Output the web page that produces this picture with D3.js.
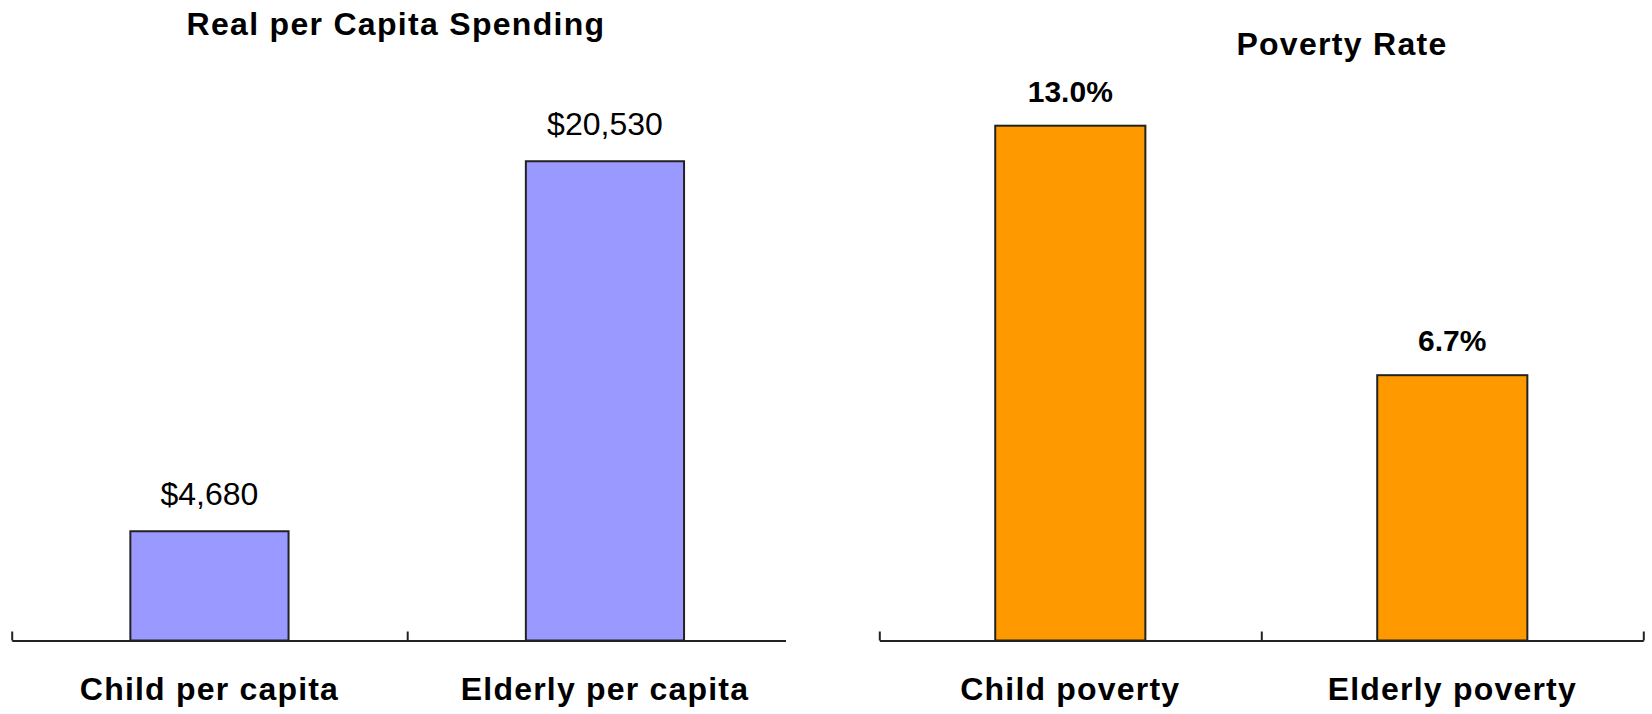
<!DOCTYPE html>
<html>
<head>
<meta charset="utf-8">
<script src="https://cdn.jsdelivr.net/npm/d3@7"></script>
<style>
  body { margin: 0; background: #fff; }
  text { font-family: "Liberation Sans", Arial, sans-serif; fill: #000; }
</style>
</head>
<body>
<div class="chart"></div>
<script>
// data
const spendCategories = ['Child per capita', 'Elderly per capita'];
const spendValues = [4680, 20530];
const spendLabels = ['$4,680', '$20,530'];

const povertyCategories = ['Child poverty', 'Elderly poverty'];
const povertyValues = [13.0, 6.7];
const povertyLabels = ['13.0%', '6.7%'];

const width = 1652;
const height = 714;
const axisY = 640.5;

const svg = d3.select('.chart')
    .append('svg')
    .attr('width', width)
    .attr('height', height)

// left panel is partly covered by the right one, so clip it
svg.append('defs').append('clipPath')
    .attr('id', 'leftClip')
    .append('rect')
    .attr('x', 0).attr('y', 0)
    .attr('width', 786).attr('height', height)

function drawPanel(opts) {
    const g = svg.append('g')
    if (opts.clip) g.attr('clip-path', 'url(#leftClip)')

    const x = d3.scaleBand()
        .domain(opts.categories)
        .range(opts.xRange)
        .padding(0)
    const y = d3.scaleLinear()
        .domain([0, opts.yMax])
        .range([axisY, opts.yTop])

    const data = opts.categories.map((c, i) => ({ cat: c, value: opts.values[i], label: opts.labels[i] }))
    const barW = x.bandwidth() * opts.barFrac

    g.selectAll('rect.bar')
        .data(data)
        .enter()
        .append('rect')
        .attr('class', 'bar')
        .attr('x', d => x(d.cat) + (x.bandwidth() - barW) / 2)
        .attr('y', d => y(d.value))
        .attr('width', barW)
        .attr('height', d => axisY - y(d.value))
        .attr('fill', opts.color)
        .attr('stroke', '#222')
        .attr('stroke-width', 2)

    // axis line with tick marks at the category boundaries
    const edges = d3.scaleLinear().domain([0, opts.categories.length]).range(opts.xRange)
    const axisG = g.append('g')
        .attr('transform', `translate(0,${axisY})`)
        .call(d3.axisBottom(edges)
            .tickValues(d3.range(opts.categories.length + 1))
            .tickSizeInner(-9)
            .tickSizeOuter(0)
            .tickFormat(''))
    axisG.selectAll('path, line').attr('stroke', '#222').attr('stroke-width', 2)

    // category labels
    const labG = svg.append('g')
        .attr('transform', `translate(0,${axisY})`)
        .call(d3.axisBottom(x).tickSize(0).tickPadding(37))
    labG.select('.domain').remove()
    labG.selectAll('text')
        .style('font-family', '"Liberation Sans", Arial, sans-serif')
        .attr('font-size', 32)
        .attr('font-weight', 'bold')
        .attr('letter-spacing', '1.2px')
        .attr('fill', '#000')

    // value labels
    g.selectAll('text.val')
        .data(data)
        .enter()
        .append('text')
        .attr('class', 'val')
        .attr('x', d => x(d.cat) + x.bandwidth() / 2)
        .attr('y', d => y(d.value) - opts.labelGap)
        .attr('text-anchor', 'middle')
        .attr('font-size', opts.valSize)
        .attr('font-weight', opts.valWeight)
        .text(d => d.label)

    svg.append('text')
        .attr('x', opts.titleX)
        .attr('y', opts.titleY)
        .attr('text-anchor', 'middle')
        .attr('font-size', 32)
        .attr('font-weight', 'bold')
        .attr('letter-spacing', '1.3px')
        .text(opts.title)
}

drawPanel({
    categories: spendCategories,
    values: spendValues,
    labels: spendLabels,
    xRange: [11.7, 802.7],
    yMax: 25000,
    yTop: 56.9,
    barFrac: 0.4,
    color: '#9999ff',
    labelGap: 26,
    valSize: 32,
    valWeight: 'normal',
    title: 'Real per Capita Spending',
    titleX: 396,
    titleY: 35,
    clip: true
})

drawPanel({
    categories: povertyCategories,
    values: povertyValues,
    labels: povertyLabels,
    xRange: [879.3, 1643.3],
    yMax: 14,
    yTop: 86.1,
    barFrac: 0.393,
    color: '#ff9900',
    labelGap: 24,
    valSize: 30,
    valWeight: 'bold',
    title: 'Poverty Rate',
    titleX: 1342,
    titleY: 55,
    clip: false
})
</script>
</body>
</html>
